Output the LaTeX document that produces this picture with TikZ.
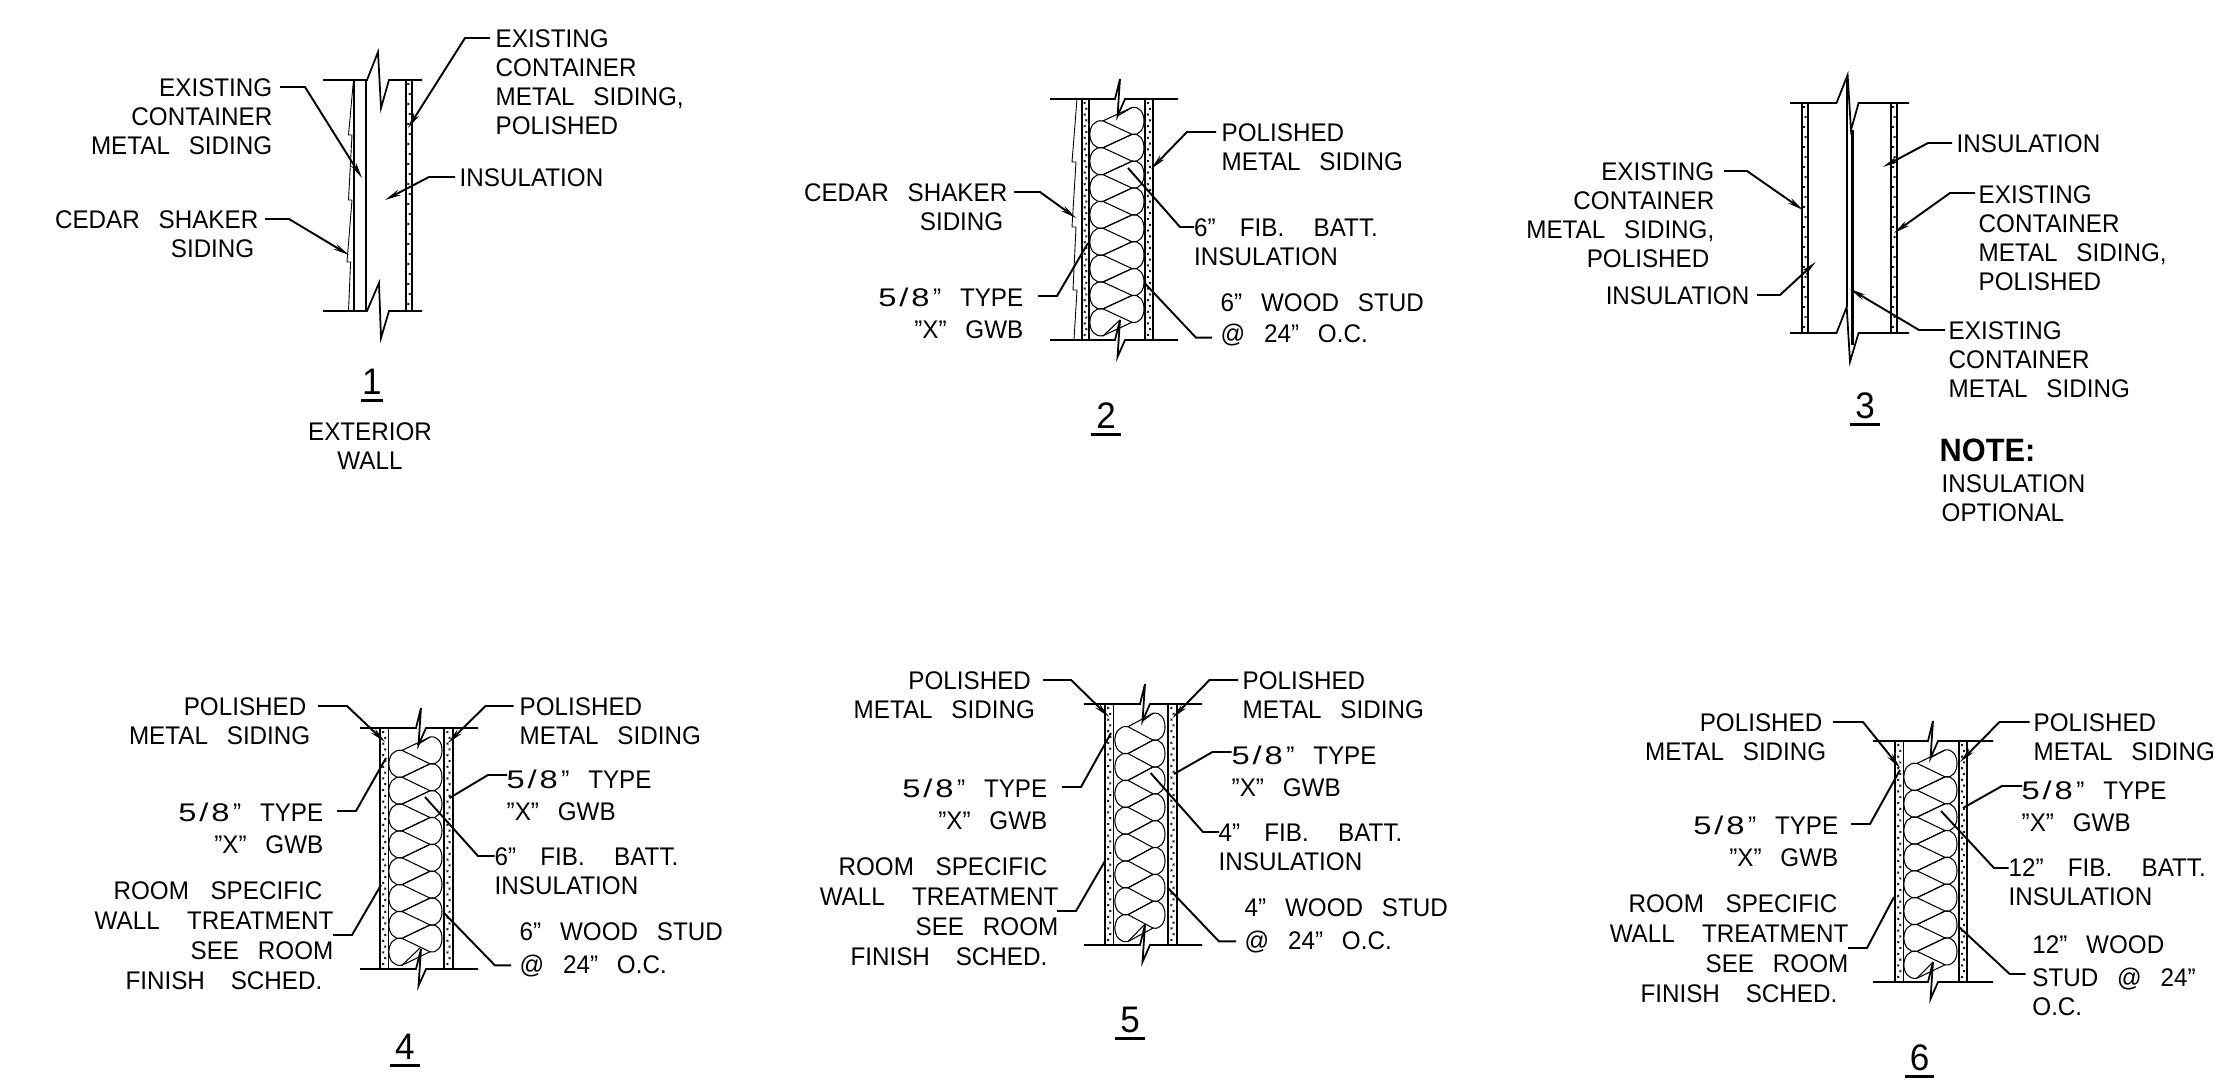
\documentclass[tikz,border=0pt]{standalone}
\usepackage{fontspec}
\setmainfont[FakeStretch=0.95,WordSpace=2.8]{Liberation Sans}
\usetikzlibrary{arrows.meta}

% board layer with its lines and staggered marks
\newcommand{\gwb}[4]{
    \draw[wallln] (#1,#3) -- (#1,#4);
    \draw[wallln] (#2,#3) -- (#2,#4);
    \pgfmathsetmacro{\gstep}{(#2-#1)<7 ? 10 : 5.8}
    \pgfmathsetmacro{\gwbn}{int((#4-#3-8)/\gstep)}
    \foreach \m in {0,...,\gwbn} {
        \pgfmathsetmacro{\gx}{#1+(#2-#1)*(mod(\m,2)==0 ? 0.38 : 0.62)}
        \pgfmathsetmacro{\gy}{#3+4+\gstep*\m}
        \draw[markln] (\gx-0.9,\gy-0.9) -- (\gx+0.9,\gy+0.9) (\gx-0.9,\gy+0.9) -- (\gx+0.9,\gy-0.9);
    }
}
% batt: round lobes on both faces and the zigzag between them
\newcommand{\batt}[3]{
    \foreach \k in {0,...,7} {
        \pgfmathsetmacro{\ra}{#3+26.85*\k}
        \pgfmathsetmacro{\rb}{\ra+26.85}
        \pgfmathsetmacro{\la}{\ra+13.4}
        \pgfmathsetmacro{\lb}{\la+26.85}
        \draw[battln] (#2,\ra) .. controls (#2+16,\ra-3) and (#2+16,\rb+3) .. (#2,\rb);
        \draw[battln] (#1,\la) .. controls (#1-17.5,\la-3) and (#1-17.5,\lb+3) .. (#1,\lb);
        \draw[battln] (#2,\ra) -- (#1,\la) -- (#2,\rb) -- (#1,\lb);
    }
}
% cut line with a small break
\newcommand{\cutline}[4]{
    \draw[wallln] (#1,#4) -- (#2,#4) -- (#2+5,#4-20) -- (#2+2.5,#4+17) -- (#2+10,#4) -- (#3,#4);
}
% label texts that come back in several walls
\newcommand{\fiveeighths}{\scalebox{1.35}[1]{5\kern0.6pt/\kern0.6pt8}\kern1pt”}
\newcommand{\fibbatt}[1]{#1”\kern1.5pt\ FIB.\kern3pt\ BATT.\\INSULATION}
\newcommand{\roomspec}{ROOM\kern0.8pt\ SPECIFIC\hspace*{0.11cm}\\[0.3pt]WALL\kern2.4pt\ TREATMENT\\[0.3pt]SEE ROOM\hspace*{0.12cm}\\[0.3pt]FINISH\kern2pt\ SCHED.\hspace*{0.11cm}}

\begin{document}
\begin{tikzpicture}[x=0.01cm, y=-0.01cm,
    lblr/.style={anchor=north east, align=right, inner sep=0pt, xshift=0.02cm, font=\fontsize{7.25}{8.2}\selectfont},
    lbll/.style={anchor=north west, align=left, inner sep=0pt, xshift=-0.02cm, font=\fontsize{7.25}{8.2}\selectfont},
    lblc/.style={anchor=north, align=center, inner sep=0pt, font=\fontsize{7.25}{8.2}\selectfont},
    detno/.style={inner sep=0pt, minimum width=0.28cm, font=\fontsize{10.5}{11}\selectfont},
    numln/.style={line width=0.8pt},
    wallln/.style={line width=0.5pt},
    thinln/.style={line width=0.25pt},
    battln/.style={line width=0.3pt},
    markln/.style={line width=0.2pt},
    lead/.style={line width=0.55pt},
    leadarr/.style={line width=0.55pt, -{Stealth[length=4.6pt, width=1.7pt]}}]
\useasboundingbox (0,0) rectangle (2214,1085);

% Wall 1
\draw[wallln] (323,80) -- (367,80) -- (378,52) -- (381,108) -- (389,80) -- (422,80);
\draw[wallln] (323,311) -- (367,311) -- (379,283) -- (381,338) -- (389,311) -- (422,311);
\draw[wallln] (354,80) -- (354,311);
\draw[wallln] (366,80) -- (366,311);
\draw[thinln] (353.5,80) -- (348.5,135) -- (352,135) -- (348.5,200) -- (352,200) -- (347,262) -- (350.6,262) -- (348.5,311);
\gwb{406}{412}{80}{311}
\node[lblr] (exist1) at (271,78) {EXISTING\\CONTAINER\\METAL SIDING};
\coordinate (exist1t) at (362,178);
\draw[leadarr] ([shift={(7,9)}]exist1.north east) -- ++(25,0) -- (exist1t);
\node[lblr] (cedar1) at (257,210) {CEDAR SHAKER\\SIDING\hspace*{0.04cm}};
\coordinate (cedar1t) at (349,255);
\draw[leadarr] ([shift={(6,9)}]cedar1.north east) -- ++(24,0) -- (cedar1t);
\node[lbll] (polish1) at (497,29) {EXISTING\\CONTAINER\\METAL SIDING,\\POLISHED};
\coordinate (polish1t) at (408,128);
\draw[leadarr] ([shift={(-5,9)}]polish1.north west) -- ++(-25,0) -- (polish1t);
\node[lbll] (insul1) at (461,168) {INSULATION};
\coordinate (insul1t) at (385,200);
\draw[leadarr] ([shift={(-4,9)}]insul1.north west) -- ++(-26,0) -- (insul1t);
\node[detno, minimum width=0.2cm] (no1) at (372,382) {1};
\draw[numln] ([yshift=-0.05cm]no1.south west) -- ([yshift=-0.05cm]no1.south east);
\node[lblc] (title1) at (370,422) {EXTERIOR\\WALL};

% Wall 2
\cutline{1050}{1115}{1178}{99}
\cutline{1050}{1115}{1178}{340}
\draw[thinln] (1077,99) -- (1072,162) -- (1076,162) -- (1072,227) -- (1076,227) -- (1073,290) -- (1077,290) -- (1074,340);
\gwb{1082}{1089}{99}{340}
\gwb{1145}{1153}{99}{340}
\batt{1103}{1132}{107.5}
\draw[battln] (1117.5,116) -- (1132,107.5);
\draw[battln] (1103,336) -- (1120,320);
\node[lblr] (cedar2) at (1006,183) {CEDAR SHAKER\\SIDING\hspace*{0.04cm}};
\coordinate (cedar2t) at (1076,218);
\draw[leadarr] ([shift={(6,9)}]cedar2.north east) -- ++(26,0) -- (cedar2t);
\node[lblr] (gwb2) at (1022,287) {\fiveeighths{} TYPE\\[1.1pt]”X” GWB};
\coordinate (gwb2t) at (1088,243);
\draw[lead] ([shift={(14,9)}]gwb2.north east) -- ++(19,0) -- (gwb2t);
\node[lbll] (polish2) at (1223,123) {POLISHED\\METAL SIDING};
\coordinate (polish2t) at (1151,169);
\draw[leadarr] ([shift={(-5,9)}]polish2.north west) -- ++(-29,0) -- (polish2t);
\node[lbll] (fib2) at (1195.5,218) {\fibbatt{6}};
\coordinate (fib2t) at (1128,168);
\draw[lead] ([shift={(0.5,9)}]fib2.north west) -- ++(-14,0) -- (fib2t);
\node[lbll] (stud2) at (1222,293) {6” WOOD STUD\\[0.6pt]@ 24” O.C.};
\coordinate (stud2t) at (1144.5,283);
\draw[lead] ([shift={(-8,-9)}]stud2.south west) -- ++(-16,0) -- (stud2t);
\node[detno] (no2) at (1106,416) {2};
\draw[numln] ([yshift=-0.05cm]no2.south west) -- ([yshift=-0.05cm]no2.south east);

% Wall 3
\draw[wallln] (1790,103) -- (1836.5,103) -- (1847.6,75) -- (1851,130) -- (1858.6,103) -- (1909,103);
\draw[wallln] (1790,333) -- (1836.5,333) -- (1846.7,307) -- (1850,361.7) -- (1858.6,333) -- (1909,333);
\draw[line width=0.8pt] (1847,80) -- (1847,307);
\draw[line width=0.8pt] (1852.5,130) -- (1852.5,345);
\gwb{1802}{1807.7}{103}{333}
\gwb{1891}{1896.7}{103}{333}
\node[lblr] (polish3a) at (1713,162) {EXISTING\\CONTAINER\\METAL SIDING,\\POLISHED\hspace*{0.05cm}};
\coordinate (polish3at) at (1803,210);
\draw[leadarr] ([shift={(9,9)}]polish3a.north east) -- ++(23,0) -- (polish3at);
\node[lblr] (insul3a) at (1748,286) {INSULATION};
\coordinate (insul3at) at (1815.7,262);
\draw[leadarr] ([shift={(7,9)}]insul3a.north east) -- ++(23,0) -- (insul3at);
\node[lbll] (insul3b) at (1958,134) {INSULATION};
\coordinate (insul3bt) at (1883,167);
\draw[leadarr] ([shift={(-4,9)}]insul3b.north west) -- ++(-24,0) -- (insul3bt);
\node[lbll] (polish3b) at (1980,185) {EXISTING\\CONTAINER\\METAL SIDING,\\POLISHED};
\coordinate (polish3bt) at (1894,233);
\draw[leadarr] ([shift={(-3,8)}]polish3b.north west) -- ++(-25,0) -- (polish3bt);
\node[lbll] (exist3) at (1950,321) {EXISTING\\CONTAINER\\METAL SIDING};
\coordinate (exist3t) at (1850,289);
\draw[leadarr] ([shift={(-3,9)}]exist3.north west) -- ++(-26,0) -- (exist3t);
\node[detno] (no3) at (1865,406) {3};
\draw[numln] ([yshift=-0.05cm]no3.south west) -- ([yshift=-0.05cm]no3.south east);
\node[lbll, font=\fontsize{9.2}{10}\selectfont\bfseries] (note3) at (1941,438) {NOTE:};
\node[lbll] (optnote3) at (1943,474) {INSULATION\\OPTIONAL};

% Wall 4
\cutline{360}{416}{478}{728}
\cutline{360}{416}{478}{969}
\gwb{380}{388.5}{728}{969}
\gwb{444}{453}{728}{969}
\batt{402}{430}{737}
\draw[battln] (417,745) -- (430,737);
\draw[battln] (402,965.2) -- (420,948);
\node[lblr] (polish4a) at (309,697) {POLISHED\hspace*{0.04cm}\\METAL SIDING};
\coordinate (polish4at) at (385,742);
\draw[leadarr] ([shift={(7,9)}]polish4a.north east) -- ++(29,0) -- (polish4at);
\node[lbll] (polish4b) at (521,697) {POLISHED\\METAL SIDING};
\coordinate (polish4bt) at (448,743);
\draw[leadarr] ([shift={(-5.5,9)}]polish4b.north west) -- ++(-28,0) -- (polish4bt);
\node[lblr] (gwb4a) at (322,802) {\fiveeighths{} TYPE\\[1.1pt]”X” GWB};
\coordinate (gwb4at) at (386,758);
\draw[lead] ([shift={(13,9)}]gwb4a.north east) -- ++(19,0) -- (gwb4at);
\node[lblr] (room4) at (332,881) {\roomspec};
\coordinate (room4t) at (381,885);
\draw[lead] ([shift={(-1,54)}]room4.north east) -- ++(19,0) -- (room4t);
\node[lbll] (gwb4b) at (508,769) {\fiveeighths{} TYPE\\[1.1pt]”X” GWB};
\coordinate (gwb4bt) at (449.5,798);
\draw[lead] ([shift={(1,6)}]gwb4b.north west) -- ++(-19,0) -- (gwb4bt);
\node[lbll] (fib4) at (496,847) {\fibbatt{6}};
\coordinate (fib4t) at (425,797);
\draw[lead] ([shift={(0.5,9)}]fib4.north west) -- ++(-16.5,0) -- (fib4t);
\node[lbll] (stud4) at (521,922) {6” WOOD STUD\\[1.1pt]@ 24” O.C.};
\coordinate (stud4t) at (444,913);
\draw[lead] ([shift={(-8,-12)}]stud4.south west) -- ++(-16,0) -- (stud4t);
\node[detno] (no4) at (405,1047) {4};
\draw[numln] ([yshift=-0.05cm]no4.south west) -- ([yshift=-0.05cm]no4.south east);

% Wall 5
\cutline{1084}{1140}{1202}{704}
\cutline{1084}{1140}{1202}{945}
\gwb{1105}{1113.5}{704}{945}
\gwb{1168}{1177}{704}{945}
\batt{1128}{1153}{713.3}
\draw[battln] (1142.5,721) -- (1153,713.3);
\draw[battln] (1128,941.5) -- (1145,924);
\node[lblr] (polish5a) at (1033.6,671) {POLISHED\hspace*{0.04cm}\\METAL SIDING};
\coordinate (polish5at) at (1109,717);
\draw[leadarr] ([shift={(7.5,9)}]polish5a.north east) -- ++(28,0) -- (polish5at);
\node[lbll] (polish5b) at (1244,671) {POLISHED\\METAL SIDING};
\coordinate (polish5bt) at (1172.5,718);
\draw[leadarr] ([shift={(-4,9)}]polish5b.north west) -- ++(-28.5,0) -- (polish5bt);
\node[lblr] (gwb5a) at (1046,778) {\fiveeighths{} TYPE\\[1.1pt]”X” GWB};
\coordinate (gwb5at) at (1111,733);
\draw[lead] ([shift={(14,9)}]gwb5a.north east) -- ++(19,0) -- (gwb5at);
\node[lblr] (room5) at (1057,857) {\roomspec};
\coordinate (room5t) at (1105,861);
\draw[lead] ([shift={(-2,54)}]room5.north east) -- ++(19,0) -- (room5t);
\node[lbll] (gwb5b) at (1233,745) {\fiveeighths{} TYPE\\[1.1pt]”X” GWB};
\coordinate (gwb5bt) at (1174,774);
\draw[lead] ([shift={(0.5,7)}]gwb5b.north west) -- ++(-19,0) -- (gwb5bt);
\node[lbll] (fib5) at (1220,823) {\fibbatt{4}};
\coordinate (fib5t) at (1150.6,773);
\draw[lead] ([shift={(1,9)}]fib5.north west) -- ++(-16,0) -- (fib5t);
\node[lbll] (stud5) at (1246,898) {4” WOOD STUD\\[1.1pt]@ 24” O.C.};
\coordinate (stud5t) at (1168,888);
\draw[lead] ([shift={(-8,-12)}]stud5.south west) -- ++(-17,0) -- (stud5t);
\node[detno] (no5) at (1130,1020) {5};
\draw[numln] ([yshift=-0.05cm]no5.south west) -- ([yshift=-0.05cm]no5.south east);

% Wall 6
\cutline{1873}{1928}{1993}{741}
\cutline{1873}{1928}{1993}{982}
\gwb{1895}{1903.6}{741}{982}
\gwb{1959}{1967}{741}{982}
\batt{1917}{1945}{750}
\draw[battln] (1930,758) -- (1945,750);
\draw[battln] (1917,978) -- (1933,962);
\node[lblr] (polish6a) at (1825,713) {POLISHED\hspace*{0.04cm}\\METAL SIDING};
\coordinate (polish6at) at (1900,768);
\draw[leadarr] ([shift={(6,9)}]polish6a.north east) -- ++(30,0) -- (polish6at);
\node[lbll] (polish6b) at (2035,713) {POLISHED\\METAL SIDING};
\coordinate (polish6bt) at (1960,762);
\draw[leadarr] ([shift={(-3.5,9)}]polish6b.north west) -- ++(-30,0) -- (polish6bt);
\node[lblr] (gwb6a) at (1837,815) {\fiveeighths{} TYPE\\[1.1pt]”X” GWB};
\coordinate (gwb6at) at (1900,770);
\draw[lead] ([shift={(12,9)}]gwb6a.north east) -- ++(19,0) -- (gwb6at);
\node[lblr] (room6) at (1847,894) {\roomspec};
\coordinate (room6t) at (1894,897);
\draw[lead] ([shift={(-1,54)}]room6.north east) -- ++(19,0) -- (room6t);
\node[lbll] (gwb6b) at (2023,780) {\fiveeighths{} TYPE\\[1.1pt]”X” GWB};
\coordinate (gwb6bt) at (1963,808);
\draw[lead] ([shift={(1,6)}]gwb6b.north west) -- ++(-20,0) -- (gwb6bt);
\node[lbll] (fib6) at (2010,858) {\fibbatt{12}};
\coordinate (fib6t) at (1941,811);
\draw[lead] ([shift={(0.5,10)}]fib6.north west) -- ++(-14.5,0) -- (fib6t);
\node[lbll] (stud6) at (2033.7,935) {12” WOOD\\[1.1pt]STUD @ 24”\\O.C.};
\coordinate (stud6t) at (1958,926);
\draw[lead] ([shift={(-6,39)}]stud6.north west) -- ++(-16,0) -- (stud6t);
\node[detno] (no6) at (1919.5,1058) {6};
\draw[numln] ([yshift=-0.05cm]no6.south west) -- ([yshift=-0.05cm]no6.south east);
\end{tikzpicture}
\end{document}
